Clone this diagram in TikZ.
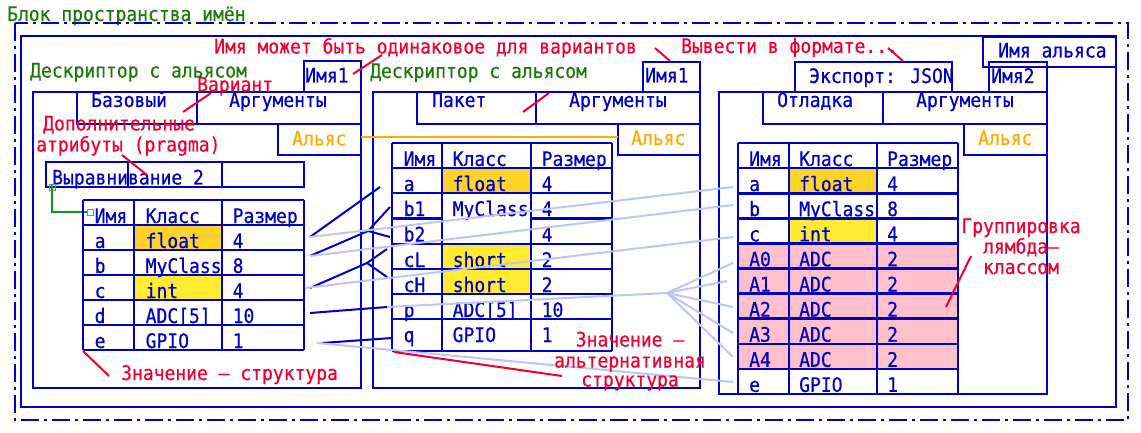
\documentclass[tikz,border=0pt]{standalone}
\usepackage{fontspec}
\setmainfont[FakeStretch=0.9,FakeBold=0.5]{DejaVu Sans Mono}
\definecolor{dblue}{RGB}{0,0,192}
\definecolor{lblue}{RGB}{190,198,245}
\definecolor{myred}{RGB}{240,0,50}
\definecolor{myorange}{RGB}{255,170,0}
\definecolor{mygreen}{RGB}{30,120,10}
\definecolor{lgreen}{RGB}{20,150,20}
\definecolor{sqgreen}{RGB}{70,175,70}
\definecolor{gold}{RGB}{255,212,42}
\definecolor{yel}{RGB}{255,235,50}
\definecolor{pinkc}{RGB}{255,192,203}
\tikzset{
  txt/.style={inner sep=0pt, anchor=base west, font=\fontsize{20}{22}\selectfont},
  bt/.style={txt, text=dblue},
  rt/.style={txt, text=myred},
  gt/.style={txt, text=mygreen},
  ot/.style={txt, text=myorange},
  thinbox/.style={draw=dblue, line width=1.3pt},
  thickline/.style={draw=dblue, line width=2.6pt},
  leader/.style={draw=myred, line width=2pt},
  darkconn/.style={draw=dblue, line width=2pt},
  lightconn/.style={draw=lblue, line width=2pt},
  framedd/.style={draw=dblue, line width=2.6pt, dash pattern=on 18pt off 5pt on 3pt off 5pt},
}
\begin{document}
\begin{tikzpicture}[x=1pt,y=-1pt]
\useasboundingbox (0,0) rectangle (1141,433);
\fill[white] (0,0) rectangle (1141,433);

% frames
\node[gt] (title) at (7,21) {Блок пространства имён};
\draw[framedd] (15,23) rectangle (1128,420);
\draw[thickline] (21,36) rectangle (1116,407);

% ===== Descriptor 1 =====
\draw[thinbox] (33,92) rectangle (361,388);
\draw[thinbox] (304,61) rectangle (361,92);
\draw[thinbox] (77,92) rectangle (361,124);
\draw[thinbox] (197,92) -- (197,124);
\draw[thinbox] (278,124) rectangle (361,155);
\node[gt] (d1title) at (30,77.5) {Дескриптор с альясом};
\node[bt] (d1name) at (305,82.5) {Имя1};
\node[bt] (d1base) at (91,107) {Базовый};
\node[bt] (d1args) at (229,107) {Аргументы};
\node[ot] (d1alias) at (292,145.5) {Альяс};

% alignment row
\draw[thickline] (46,162) rectangle (304,187);
\draw[thickline] (128,162) -- (128,187) (222,162) -- (222,187);
\node[bt] (align) at (52,184.5) {Выравнивание 2};

% green connector
\coordinate (gA) at (52,188);
\coordinate (gB) at (90,212);
\draw[lgreen, line width=2pt] ([yshift=3pt]gA) -- (gA |- gB) -- ([xshift=-3pt]gB);
\draw[sqgreen, line width=1pt] ([shift={(-3,-3)}]gA) rectangle ([shift={(3,3)}]gA);
\draw[sqgreen, line width=1pt] ([shift={(-3,-3)}]gB) rectangle ([shift={(3,3)}]gB);

% table 1
\fill[gold] (134,225) rectangle (222,250);
\fill[yel] (134,275) rectangle (222,300);
\foreach \yy in {200,225,250,275,300,325,350} \draw[thickline] (83,\yy) -- (304,\yy);
\foreach \xx in {83,134,222,304} \draw[thickline] (\xx,200) -- (\xx,350);
\foreach \a/\b/\c [count=\i from 0] in {Имя/Класс/Размер, a/float/4, b/MyClass/8, c/int/4, d/{ADC[5]}/10, e/GPIO/1} {
  \node[bt] (t1-\i-a) at ({94.5},{223+25*\i}) {\a};
  \node[bt] (t1-\i-b) at ({145.5},{223+25*\i}) {\b};
  \node[bt] (t1-\i-c) at ({232.5},{223+25*\i}) {\c};
}

% ===== Descriptor 2 =====
\draw[thinbox] (373,92) rectangle (700,388);
\draw[thinbox] (643,62) rectangle (700,92);
\draw[thinbox] (417,92) rectangle (700,124);
\draw[thinbox] (536,92) -- (536,124);
\draw[thinbox] (618,124) rectangle (700,155);
\node[gt] (d2title) at (370,78) {Дескриптор с альясом};
\node[bt] (d2name) at (645,82.5) {Имя1};
\node[bt] (d2pack) at (432,107) {Пакет};
\node[bt] (d2args) at (569,107) {Аргументы};
\node[ot] (d2alias) at (631,145) {Альяс};

% alias link
\draw[myorange, line width=2pt] (361,137) coordinate (al1) -- (618,137) coordinate (al2);

% table 2
\fill[gold] (442,168) rectangle (531,193);
\fill[yel] (442,244) rectangle (531,294);
\foreach \yy in {143,168,193,244,269,294,319,351} \draw[thickline] (392,\yy) -- (612,\yy);
\draw[thickline] (392,218.5) -- (442,218.5) (531,218.5) -- (612,218.5);
\foreach \xx in {392,442,531,612} \draw[thickline] (\xx,143) -- (\xx,351);
\foreach \a/\b/\c/\yy [count=\i from 0] in {Имя/Класс/Размер/166, a/float/4/191, b1/MyClass/4/216, b2//4/241.5, cL/short/2/267, cH/short/2/292, p/{ADC[5]}/10/317, q/GPIO/1/342} {
  \node[bt] (t2-\i-a) at (403.5,\yy) {\a};
  \node[bt] (t2-\i-b) at (452.5,\yy) {\b};
  \node[bt] (t2-\i-c) at (541.5,\yy) {\c};
}

% ===== Descriptor 3 =====
\draw[thinbox] (719,92) rectangle (1047,394);
\draw[thinbox] (795,62) rectangle (952,92);
\draw[thinbox] (989,62) rectangle (1047,92);
\draw[thinbox] (763,92) rectangle (1047,124);
\draw[thinbox] (883,92) -- (883,124);
\draw[thinbox] (964,124) rectangle (1047,155);
\draw[thinbox] (983,37) rectangle (1116,67);
\node[bt] (export) at (809,83) {Экспорт: JSON};
\node[bt] (d3name) at (991,83) {Имя2};
\node[bt] (aliasname) at (998,57.5) {Имя альяса};
\node[bt] (d3dbg) at (777,107) {Отладка};
\node[bt] (d3args) at (916,107) {Аргументы};
\node[ot] (d3alias) at (978,145) {Альяс};

% table 3
\fill[gold] (789,168) rectangle (877,193);
\fill[yel] (789,218) rectangle (877,243.5);
\fill[pinkc] (738,243.5) rectangle (958,369);
\foreach \k in {0,...,10} \draw[thickline] (738,{143+25.1*\k}) -- (958,{143+25.1*\k});
\foreach \xx in {738,789,877,958} \draw[thickline] (\xx,143) -- (\xx,394);
\foreach \a/\b/\c [count=\i from 0] in {Имя/Класс/Размер, a/float/4, b/MyClass/8, c/int/4, A0/ADC/2, A1/ADC/2, A2/ADC/2, A3/ADC/2, A4/ADC/2, e/GPIO/1} {
  \node[bt] (t3-\i-a) at ({749},{166+25.1*\i}) {\a};
  \node[bt] (t3-\i-b) at ({799},{166+25.1*\i}) {\b};
  \node[bt] (t3-\i-c) at ({887},{166+25.1*\i}) {\c};
}

% ===== connectors =====
\coordinate (s1a) at (310,237);
\coordinate (s1b) at (310,256);
\coordinate (s1c) at (310,288);
\coordinate (s1d) at (310,313);
\coordinate (s1e) at (322,343);
\coordinate (e2a) at (380,187);
\coordinate (fb) at (368,231);
\coordinate (e2b1) at (390,207);
\coordinate (e2b2) at (390,237);
\coordinate (fc) at (367,263);
\coordinate (e2cL) at (387,249);
\coordinate (e2cH) at (387,277);
\coordinate (e2p) at (387,307);
\coordinate (e2q) at (392,338);
\draw[darkconn] (s1a) -- (e2a);
\draw[darkconn] (s1b) -- (fb) -- (e2b1) (fb) -- (e2b2);
\draw[darkconn] (s1c) -- (fc) -- (e2cL) (fc) -- (e2cH);
\draw[darkconn] (s1d) -- (e2p);
\draw[darkconn] (s1e) -- (e2q);

\coordinate (l1c) at (305,288);
\coordinate (l1e) at (317,343);
\coordinate (fan) at (667,293);
\coordinate (e3a) at (733,187);
\coordinate (e3b) at (733,205);
\coordinate (e3c) at (733,237);
\coordinate (e3A0) at (733,263);
\coordinate (e3A1) at (727,281);
\coordinate (e3A2) at (733,307);
\coordinate (e3A3) at (733,333);
\coordinate (e3A4) at (733,357);
\coordinate (e3e) at (733,382);
\draw[lightconn] (s1a) -- (e3a);
\draw[lightconn] (s1b) -- (e3b);
\draw[lightconn] (l1c) -- (e3c);
\draw[lightconn] (e2p) -- (fan);
\foreach \t in {A0,A1,A2,A3,A4} \draw[lightconn] (fan) -- (e3\t);
\draw[lightconn] (l1e) -- (e3e);

% ===== red annotations =====
\node[rt] (samename) at (214,53.5) {Имя может быть одинаковое для вариантов};
\node[rt] (exportnote) at (681,53) {Вывести в формате...};
\node[rt] (variant) at (197,91.5) {Вариант};
\node[rt] (extra1) at (43,130.5) {Дополнительные};
\node[rt] (extra2) at (36,151.5) {атрибуты (pragma)};
\node[rt] (valstruct) at (121,380) {Значение — структура};
\node[rt, anchor=base] (alt1) at (630,346.5) {Значение —};
\node[rt, anchor=base] (alt2) at (630,367.5) {альтернативная};
\node[rt, anchor=base] (alt3) at (630,386.5) {структура};
\node[rt, anchor=base] (grp1) at (1021,233) {Группировка};
\node[rt, anchor=base] (grp2) at (1021,253.5) {лямбда—};
\node[rt, anchor=base] (grp3) at (1021,274) {классом};

\draw[leader] (382,55) -- (353,74);
\draw[leader] (655,48) -- (670,61);
\draw[leader] (888,48) -- (903,61);
\draw[leader] (211,93) -- (183,112);
\draw[leader] (549,93) -- (523,112);
\draw[leader] (122,155) -- (147,175);
\draw[leader] (83,351) -- (109,376);
\draw[leader] (394,352) -- (562,376);
\draw[leader] (971,256) -- (946,307);
\end{tikzpicture}
\end{document}
